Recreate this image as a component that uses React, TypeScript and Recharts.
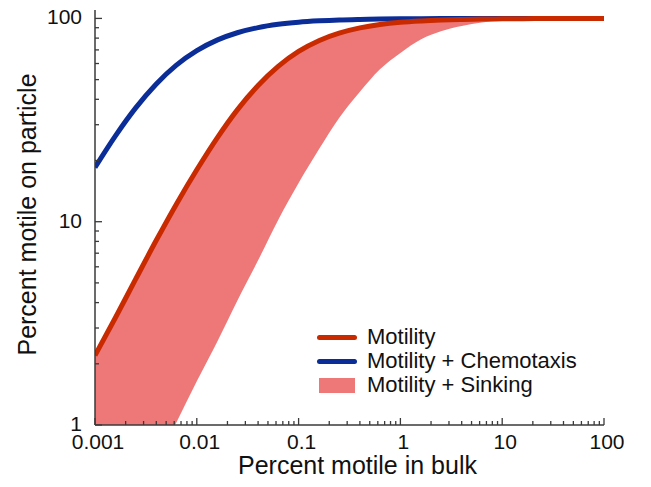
import { ComposedChart, Area, Line, XAxis, YAxis, Legend } from "recharts";

// Percent motile in bulk (x), 0.2-decade steps
const BULK = [
  0.001, 0.0016, 0.0025, 0.004, 0.0063, 0.01, 0.016, 0.025, 0.04, 0.063, 0.1,
  0.16, 0.25, 0.4, 0.63, 1, 1.6, 2.5, 4, 6.3, 10, 16, 25, 40, 63, 100,
];

// Percent motile on particle
const CHEMOTAXIS = [
  18.5, 26.6, 36.2, 47.6, 58.9, 69.4, 78.4, 85, 90.1, 93.5, 95.8, 97.3, 98.3,
  98.9, 99.3, 99.6, 99.7, 99.8, 99.9, 99.9, 100, 100, 100, 100, 100, 100,
];
const MOTILITY = [
  2.2, 3.4, 5.2, 8.1, 12.2, 18, 26, 35.5, 46.8, 58.1, 68.8, 77.9, 84.6, 89.8,
  93.3, 95.7, 97.2, 98.2, 98.9, 99.3, 99.5, 99.7, 99.8, 99.9, 99.9, 100,
];
// lower edge of the sinking band (upper edge is the motility curve);
// values under 1 run off the bottom of the axis and get clipped
const SINKING_LOW = [
  0.164, 0.26, 0.41, 0.65, 1.03, 1.64, 2.59, 4.09, 6.46, 10.2, 15.5, 22.9, 32.4,
  43.6, 56.2, 67.6, 79, 86.5, 91.8, 95.5, 97.9, 99.2, 99.7, 99.9, 100, 100,
];

const X_MAJOR = [0.001, 0.01, 0.1, 1, 10, 100];
const X_LABELS = ["0.001", "0.01", "0.1", "1", "10", "100"];
const Y_MAJOR = [1, 10, 100];
const Y_LABELS = ["1", "10", "100"];

const RED = "#c92a00";
const BLUE = "#0b2d98";
const BAND = "#ee7778";
const AXIS = "#3a3a3a";
const FONT = "'Liberation Sans', Arial, Helvetica, sans-serif";

const data = BULK.map((x, i) => ({
  x,
  chemo: CHEMOTAXIS[i],
  motility: MOTILITY[i],
  sinking: [SINKING_LOW[i], MOTILITY[i]],
}));

// log ticks: majors plus 2..9 minors in each decade
function logTicks(majors: number[]): number[] {
  const out: number[] = [];
  majors.forEach((m, i) => {
    out.push(m);
    if (i < majors.length - 1) {
      for (let k = 2; k <= 9; k++) out.push(+(m * k).toPrecision(6));
    }
  });
  return out;
}
const X_TICKS = logTicks(X_MAJOR);
const Y_TICKS = logTicks(Y_MAJOR);

function majorIndex(v: number, majors: number[]) {
  return majors.findIndex((m) => Math.abs(v - m) / m < 1e-6);
}

const MAJOR_LEN = 7;
const MINOR_LEN = 4;

function BottomTick(props: any) {
  const { x, y, payload } = props;
  const idx = majorIndex(payload.value, X_MAJOR);
  const len = idx >= 0 ? MAJOR_LEN : MINOR_LEN;
  return (
    <g>
      <line x1={x} x2={x} y1={y} y2={y - len} stroke={AXIS} strokeWidth={1.3} />
      {idx >= 0 && (
        <text x={x + 3} y={y + 24} textAnchor="middle" fontSize={21} fill="#111" fontFamily={FONT}>
          {X_LABELS[idx]}
        </text>
      )}
    </g>
  );
}

function TopTick(props: any) {
  const { x, y, payload } = props;
  const len = majorIndex(payload.value, X_MAJOR) >= 0 ? MAJOR_LEN : MINOR_LEN;
  return <line x1={x} x2={x} y1={y} y2={y + len} stroke={AXIS} strokeWidth={1.3} />;
}

function LeftTick(props: any) {
  const { x, y, payload } = props;
  const idx = majorIndex(payload.value, Y_MAJOR);
  const len = idx >= 0 ? MAJOR_LEN : MINOR_LEN;
  return (
    <g>
      <line x1={x} x2={x + len} y1={y} y2={y} stroke={AXIS} strokeWidth={1.3} />
      {idx >= 0 && (
        <text x={x - 13} y={y + 6} textAnchor="end" fontSize={21} fill="#111" fontFamily={FONT}>
          {Y_LABELS[idx]}
        </text>
      )}
    </g>
  );
}

function RightTick(props: any) {
  const { x, y, payload } = props;
  const len = majorIndex(payload.value, Y_MAJOR) >= 0 ? MAJOR_LEN : MINOR_LEN;
  return <line x1={x} x2={x - len} y1={y} y2={y} stroke={AXIS} strokeWidth={1.3} />;
}

const LEGEND_ITEMS = [
  { name: "Motility", color: RED, kind: "line" },
  { name: "Motility + Chemotaxis", color: BLUE, kind: "line" },
  { name: "Motility + Sinking", color: BAND, kind: "area" },
];

function ChartLegend() {
  return (
    <div style={{ fontFamily: FONT, fontSize: 22, color: "#111", lineHeight: "24px" }}>
      {LEGEND_ITEMS.map((it) => (
        <div key={it.name} style={{ display: "flex", alignItems: "center", height: 24 }}>
          {it.kind === "line" ? (
            <div style={{ width: 40, height: 5, borderRadius: 3, background: it.color }} />
          ) : (
            <div style={{ width: 36, height: 15, marginLeft: 2, marginRight: 2, background: it.color }} />
          )}
          <span style={{ marginLeft: 10 }}>{it.name}</span>
        </div>
      ))}
    </div>
  );
}

export default function App() {
  return (
    <div style={{ position: "absolute", left: 0, top: 0, background: "#fff" }}>
      <ComposedChart
        width={651}
        height={487}
        data={data}
        margin={{ top: 10, right: 47, bottom: 0, left: 0 }}
        style={{ fontFamily: FONT }}
      >
        <XAxis
          dataKey="x"
          type="number"
          scale="log"
          domain={[0.001, 100]}
          allowDataOverflow
          ticks={X_TICKS}
          interval={0}
          tick={<BottomTick />}
          tickLine={false}
          tickSize={0}
          tickMargin={0}
          height={62}
          axisLine={{ stroke: AXIS, strokeWidth: 1.5 }}
          label={{
            value: "Percent motile in bulk",
            position: "center",
            dx: 8,
            dy: 9,
            fontSize: 25,
            fill: "#111",
          }}
        />
        <XAxis
          xAxisId="top"
          dataKey="x"
          type="number"
          scale="log"
          orientation="top"
          domain={[0.001, 100]}
          allowDataOverflow
          ticks={X_TICKS}
          interval={0}
          tick={<TopTick />}
          tickLine={false}
          tickSize={0}
          tickMargin={0}
          height={0}
          axisLine={{ stroke: AXIS, strokeWidth: 1.5 }}
        />
        <YAxis
          type="number"
          scale="log"
          domain={[1, 110]}
          allowDataOverflow
          ticks={Y_TICKS}
          interval={0}
          tick={<LeftTick />}
          tickLine={false}
          tickSize={0}
          tickMargin={0}
          width={95}
          axisLine={{ stroke: AXIS, strokeWidth: 1.5 }}
          label={{
            value: "Percent motile on particle",
            angle: -90,
            position: "center",
            dx: -20,
            dy: -3,
            fontSize: 25,
            fill: "#111",
          }}
        />
        <YAxis
          yAxisId="right"
          type="number"
          scale="log"
          orientation="right"
          domain={[1, 110]}
          allowDataOverflow
          ticks={Y_TICKS}
          interval={0}
          tick={<RightTick />}
          tickLine={false}
          tickSize={0}
          tickMargin={0}
          width={0}
          axisLine={{ stroke: AXIS, strokeWidth: 1.5 }}
        />
        <Area
          dataKey="sinking"
          type="monotone"
          fill={BAND}
          fillOpacity={1}
          stroke="none"
          isAnimationActive={false}
        />
        <Line
          dataKey="chemo"
          type="monotone"
          stroke={BLUE}
          strokeWidth={5}
          dot={false}
          isAnimationActive={false}
        />
        <Line
          dataKey="motility"
          type="monotone"
          stroke={RED}
          strokeWidth={5}
          dot={false}
          isAnimationActive={false}
        />
        <Legend
          layout="horizontal"
          verticalAlign="middle"
          align="center"
          content={<ChartLegend />}
          wrapperStyle={{ left: 317, top: 325, width: 290 }}
        />
      </ComposedChart>
    </div>
  );
}
